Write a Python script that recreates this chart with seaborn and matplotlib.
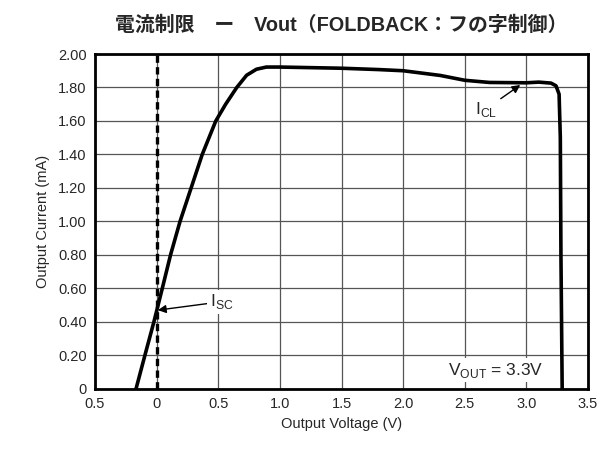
import matplotlib
matplotlib.use("Agg")
import matplotlib.pyplot as plt
import seaborn as sns
import pandas as pd

# Data
vout = [-0.167, -0.095, -0.022, 0.046, 0.113, 0.19, 0.28, 0.37, 0.48, 0.56, 0.65, 0.73,
        0.81, 0.89, 1.0, 1.5, 1.8, 2.0, 2.3, 2.5, 2.7, 3.0, 3.1, 3.2, 3.24, 3.265, 3.275,
        3.28, 3.29]
iout = [0.0, 0.2, 0.4, 0.6, 0.8, 1.0, 1.2, 1.4, 1.6, 1.70, 1.80, 1.873,
        1.909, 1.922, 1.922, 1.915, 1.907, 1.90, 1.872, 1.843, 1.83, 1.828, 1.832, 1.826, 1.81,
        1.76, 1.5, 0.8, 0.0]
xticks = [-0.5, 0, 0.5, 1.0, 1.5, 2.0, 2.5, 3.0, 3.5]
xtick_labels = ["0.5", "0", "0.5", "1.0", "1.5", "2.0", "2.5", "3.0", "3.5"]
yticks = [0, 0.2, 0.4, 0.6, 0.8, 1.0, 1.2, 1.4, 1.6, 1.8, 2.0]
ytick_labels = ["0", "0.20", "0.40", "0.60", "0.80", "1.00", "1.20", "1.40", "1.60", "1.80", "2.00"]

sns.set_style("white")
plt.rcParams['font.family'] = ['Liberation Sans', 'Noto Sans CJK JP', 'DejaVu Sans']

fig = plt.figure(figsize=(6.05, 4.5), dpi=100)
ax = fig.add_axes([0.157, 0.136, 0.815, 0.744])

df = pd.DataFrame({"V": vout, "I": iout})
sns.lineplot(data=df, x="V", y="I", sort=False, color="black", linewidth=2.6, ax=ax, zorder=3)

ax.axvline(0, color="black", linestyle=(0, (2.2, 1.3)), linewidth=2.4, zorder=2)

ax.set_xlim(-0.5, 3.5)
ax.set_ylim(0, 2.0)
ax.set_xticks(xticks)
ax.set_xticklabels(xtick_labels, fontsize=10.5)
ax.set_yticks(yticks)
ax.set_yticklabels(ytick_labels, fontsize=10.5)
ax.tick_params(length=0, pad=6)
ax.grid(True, color="#555555", linewidth=0.9)
for s in ax.spines.values():
    s.set_linewidth(2.0)
    s.set_color("black")

ax.set_xlabel("Output Voltage (V)", fontsize=10.5, labelpad=4)
ax.set_ylabel("Output Current (mA)", fontsize=10.5, labelpad=6)
ax.set_title("電流制限　ー　Vout（FOLDBACK：フの字制御）", fontsize=14.3, fontweight="bold",
             family=['Liberation Sans', 'Noto Sans CJK JP', 'DejaVu Sans'], pad=17)

ax.annotate("I$_{\\mathregular{SC}}$", xy=(0.01, 0.47), xytext=(0.43, 0.52), fontsize=12.5,
            ha="left", va="center",
            bbox=dict(boxstyle="square,pad=0.15", fc="white", ec="none"),
            arrowprops=dict(arrowstyle="-|>", color="black", lw=1.0, mutation_scale=12,
                            shrinkA=0, shrinkB=0), zorder=4)
ax.annotate("I$_{\\mathregular{CL}}$", xy=(2.95, 1.815), xytext=(2.58, 1.67), fontsize=12.5,
            ha="left", va="center",
            bbox=dict(boxstyle="square,pad=0.1", fc="white", ec="none"),
            arrowprops=dict(arrowstyle="-|>", color="black", lw=1.0, mutation_scale=12,
                            shrinkA=2, shrinkB=0), zorder=4)
ax.text(2.75, 0.11, "V$_{\\mathregular{OUT}}$ = 3.3V", fontsize=12.5, ha="center", va="center",
        bbox=dict(boxstyle="square,pad=0.15", fc="white", ec="none"), zorder=4)

fig.savefig("out.png", dpi=100)
